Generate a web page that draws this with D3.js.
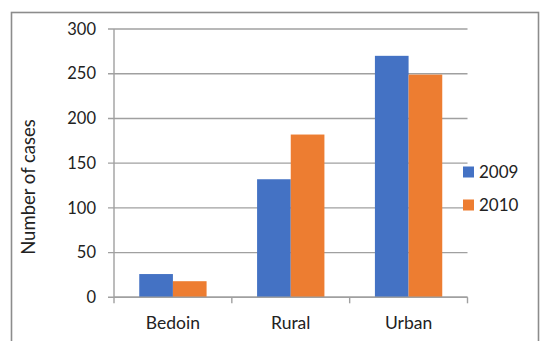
<!DOCTYPE html>
<html>
<head>
<meta charset="utf-8">
<script src="https://cdn.jsdelivr.net/npm/d3@7"></script>
<style>
	body { margin: 0; background: #fff; }
	svg { display: block; }
	text { font-family: Lato, "Open Sans", sans-serif; fill: #222; }
</style>
</head>
<body>
<div id="chart"></div>
<script>
var categories = ["Bedoin", "Rural", "Urban"];
var seriesNames = ["2009", "2010"];
var values2009 = [26, 132, 270];
var values2010 = [18, 182, 249];
var yTicks = [0, 50, 100, 150, 200, 250, 300];
var colors = ["#4472C4", "#ED7D31"];

var width = 540, height = 341,
	margin = {left: 114, top: 29, right: 72.5, bottom: 43.7},
	plotW = width - margin.left - margin.right,
	plotH = height - margin.top - margin.bottom;

var svg = d3.select("#chart").append("svg")
	.attr("width", width)
	.attr("height", height);

// outer frame (runs off the bottom edge)
svg.append("rect")
	.attr("x", 11.5).attr("y", 12.5)
	.attr("width", 527).attr("height", 345)
	.attr("fill", "none")
	.attr("stroke", "#8c8c8c")
	.attr("stroke-width", 1.6);

var g = svg.append("g").attr("transform", "translate(" + margin.left + "," + margin.top + ")");

var x0 = d3.scaleBand().domain(categories).range([0, plotW]).paddingInner(0).paddingOuter(0);
var x1 = d3.scaleBand().domain(seriesNames).range([0, x0.bandwidth()]).paddingInner(0).paddingOuter(0.75);
var y = d3.scaleLinear().domain([0, 300]).range([plotH, 0]);

// gridlines + left ticks
g.selectAll(".grid").data(yTicks).enter().append("line")
	.attr("x1", -6).attr("x2", plotW)
	.attr("y1", function (d) { return y(d); })
	.attr("y2", function (d) { return y(d); })
	.attr("stroke", "#a0a0a0")
	.attr("stroke-width", 1.4);

g.selectAll(".ylab").data(yTicks).enter().append("text")
	.attr("x", -18)
	.attr("y", function (d) { return y(d); })
	.attr("dy", "0.35em")
	.attr("text-anchor", "end")
	.style("font-size", "16.5px")
	.text(function (d) { return d; });

// bars
var data = categories.map(function (c, i) {
	return {cat: c, vals: [values2009[i], values2010[i]]};
});

var groups = g.selectAll(".grp").data(data).enter().append("g")
	.attr("transform", function (d) { return "translate(" + x0(d.cat) + ",0)"; });

groups.selectAll("rect").data(function (d) {
	return d.vals.map(function (v, j) { return {s: seriesNames[j], v: v, j: j}; });
}).enter().append("rect")
	.attr("x", function (d) { return x1(d.s); })
	.attr("width", x1.bandwidth())
	.attr("y", function (d) { return y(d.v); })
	.attr("height", function (d) { return y(0) - y(d.v); })
	.attr("fill", function (d) { return colors[d.j]; });

// axes lines
g.append("line")
	.attr("x1", 0).attr("x2", 0)
	.attr("y1", y(300)).attr("y2", plotH)
	.attr("stroke", "#a0a0a0").attr("stroke-width", 1.4);
g.append("line")
	.attr("x1", 0).attr("x2", plotW)
	.attr("y1", plotH).attr("y2", plotH)
	.attr("stroke", "#a0a0a0").attr("stroke-width", 1.4);

var xTickPos = categories.map(function (c) { return x0(c); }).concat([plotW]);
g.selectAll(".xtick").data(xTickPos).enter().append("line")
	.attr("x1", function (d) { return d; }).attr("x2", function (d) { return d; })
	.attr("y1", plotH).attr("y2", plotH + 6)
	.attr("stroke", "#a0a0a0").attr("stroke-width", 1.4);

g.selectAll(".xlab").data(categories).enter().append("text")
	.attr("x", function (d) { return x0(d) + x0.bandwidth() / 2; })
	.attr("y", plotH + 32)
	.attr("text-anchor", "middle")
	.style("font-size", "17.5px")
	.text(function (d) { return d; });

// y title
svg.append("text")
	.attr("transform", "translate(35," + 187 + ") rotate(-90)")
	.attr("text-anchor", "middle")
	.style("font-size", "18.5px")
	.text("Number of cases");

// legend
var legend = svg.selectAll(".leg").data(seriesNames).enter().append("g")
	.attr("transform", function (d, i) { return "translate(463," + (172 + i * 33) + ")"; });
legend.append("rect")
	.attr("x", 0).attr("y", -5.5)
	.attr("width", 11).attr("height", 11)
	.attr("fill", function (d, i) { return colors[i]; });
legend.append("text")
	.attr("x", 16).attr("y", 0)
	.attr("dy", "0.36em")
	.style("font-size", "17px")
	.text(function (d) { return d; });
</script>
</body>
</html>
